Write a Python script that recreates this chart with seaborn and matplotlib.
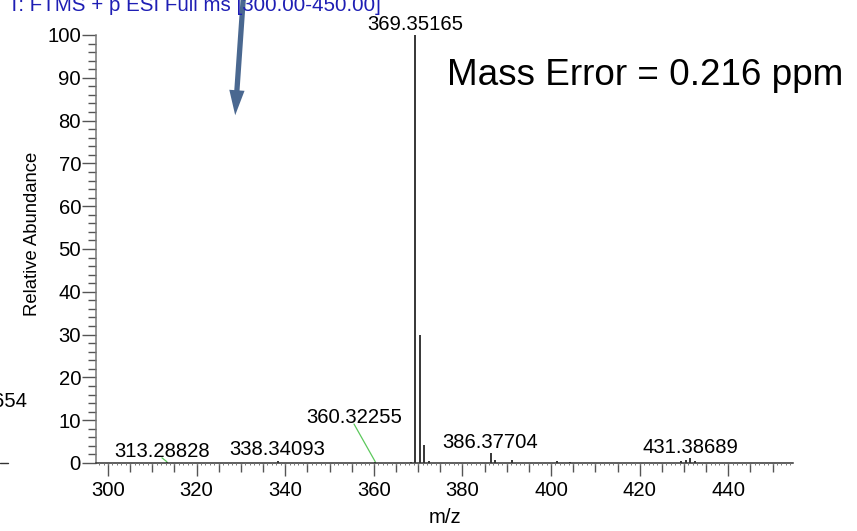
import numpy as np
import matplotlib
matplotlib.use("Agg")
import matplotlib.pyplot as plt
from matplotlib.lines import Line2D
from matplotlib.patches import FancyArrowPatch
import seaborn as sns

# ---------------- data ----------------
peak_mz = [313.28828, 338.34093, 360.32255, 368.35, 369.35165, 370.355, 371.3585,
           372.362, 386.37704, 387.38, 391.28, 401.30, 404.32, 429.37, 430.38,
           431.38689, 432.39]
peak_int = [0.3, 0.4, 0.2, 0.3, 100.0, 30.0, 4.2, 0.5, 2.3, 0.6, 0.8, 0.4, 0.3,
            0.4, 0.6, 1.1, 0.4]

label_text = ["313.28828", "338.34093", "360.32255", "369.35165", "386.37704", "431.38689"]
label_mz = [313.28828, 338.34093, 360.32255, 369.35165, 386.37704, 431.38689]

x_major = [300, 320, 340, 360, 380, 400, 420, 440]
y_major = [0, 10, 20, 30, 40, 50, 60, 70, 80, 90, 100]

title_text = "T: FTMS + p ESI Full ms [300.00-450.00]"
mass_error_text = "Mass Error = 0.216 ppm"
cut_label_text = "393.30654"

# ---------------- layout (positions, not data) ----------------
label_pos = {  # text anchor (x, baseline y) in data units
    "313.28828": (312.19, 1.40),
    "338.34093": (338.26, 1.87),
    "360.32255": (355.53, 9.35),
    "369.35165": (369.30, 101.2),
    "386.37704": (386.34, 3.50),
    "431.38689": (431.38, 2.34),
}
leaders = {  # label end point of green leader (data units)
    "313.28828": (312.19, 1.2),
    "360.32255": (355.53, 9.1),
}

sns.set_theme(style="ticks")
plt.rcParams["font.family"] = ["Liberation Sans", "DejaVu Sans"]
plt.rcParams["text.color"] = "black"
plt.rcParams["axes.labelcolor"] = "black"

W, H = 857, 531
fig = plt.figure(figsize=(W / 100, H / 100), dpi=100)
fig.patch.set_facecolor("white")
ax = fig.add_axes([96 / W, 1 - 463 / H, (793 - 96) / W, (463 - 35) / H])
ax.set_facecolor("white")

ax.vlines(peak_mz, 0, peak_int, color="black", lw=1.1)
ax.set_xlim(297.3, 454.6)
ax.set_ylim(0, 100)
sns.despine(ax=ax)

gray = "#555555"
ax.spines["left"].set_color("#777777")
ax.spines["left"].set_linewidth(1.1)
ax.spines["bottom"].set_color("#333333")
ax.spines["bottom"].set_linewidth(1.1)

ax.set_xticks(x_major)
ax.set_xticks(np.arange(300, 451, 5), minor=True)
ax.set_yticks(y_major)
ax.set_yticks(np.arange(0, 101, 2), minor=True)
ax.tick_params(axis="x", which="major", length=9.4, width=1.0, color=gray, pad=3.6,
               labelsize=14.6, labelcolor="black")
ax.tick_params(axis="x", which="minor", length=6.5, width=1.0, color=gray)
ax.tick_params(axis="y", which="major", length=10, width=1.0, color=gray, pad=0.8,
               labelsize=14.6, labelcolor="black")
ax.tick_params(axis="y", which="minor", length=5.8, width=1.0, color=gray)

# tiny ticks every 1 m/z
ax2 = ax.twiny()
ax2.set_xlim(ax.get_xlim())
ax2.xaxis.set_ticks_position("bottom")
ax2.set_xticks(np.arange(298, 455, 1))
ax2.tick_params(axis="x", length=1.3, width=0.7, color="#777777",
                labelbottom=False, labeltop=False)
for s in ax2.spines.values():
    s.set_visible(False)

ax.set_xlabel("m/z", fontsize=14.6, labelpad=6)
ax.set_ylabel("Relative Abundance", fontsize=13.3)
ax.yaxis.label.set_va("center")
ax.yaxis.set_label_coords((33 - 96) / 697, (463 - 234) / 428)

# peak labels
for t, mz in zip(label_text, label_mz):
    x, y = label_pos[t]
    ax.text(x, y, t, ha="center", va="baseline", fontsize=14.6, color="black", clip_on=False)
    if t in leaders:
        lx, ly = leaders[t]
        ax.plot([lx, mz], [ly, 0.3], color="#5cc85c", lw=0.9, clip_on=False)

# annotations outside axes
fig.text(447 / W, 1 - 85 / H, mass_error_text, fontsize=26.6, va="baseline", ha="left",
         color="black")
fig.text(8 / W, 1 - 11 / H, title_text, fontsize=14.8, color="#1e1eb4", va="baseline", ha="left")
fig.text(27 / W, 1 - 407 / H, cut_label_text, fontsize=14.6, va="baseline", ha="right",
         color="black")
fig.add_artist(Line2D([0, 8 / W], [1 - 463 / H, 1 - 463 / H], color="#333333", lw=1.0))

arrow = FancyArrowPatch((243.5, H + 5), (235, H - 118),
                        transform=None,
                        arrowstyle="simple,head_length=1.8,head_width=1.1,tail_width=0.38",
                        mutation_scale=10, color="#4a6890", lw=0)
fig.add_artist(arrow)

fig.savefig("out.png", dpi=100)
